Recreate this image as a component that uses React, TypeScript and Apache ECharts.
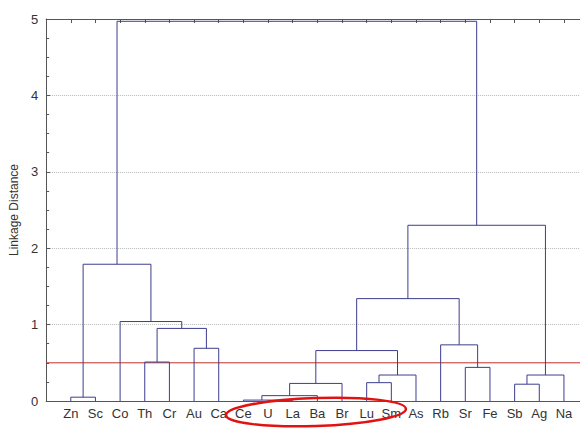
import React, { useEffect, useRef } from "react";
import * as echarts from "echarts";

// Leaf order along the x axis
const leaves: string[] = [
  "Zn", "Sc", "Co", "Th", "Cr", "Au", "Ca", "Ce", "U", "La", "Ba",
  "Br", "Lu", "Sm", "As", "Rb", "Sr", "Fe", "Sb", "Ag", "Na",
];

// Merge list: [childA, childB, linkage distance]
// indices < leaves.length are leaves; leaves.length + k refers to merge k
const mergeA: number[] = [8, 7, 0, 22, 18, 24, 12, 27, 25, 16, 3, 26, 5, 15, 31, 2, 32, 23, 37, 38];
const mergeB: number[] = [9, 21, 1, 10, 19, 11, 13, 14, 20, 17, 4, 28, 6, 30, 33, 35, 34, 36, 29, 39];
const mergeHeight: number[] = [
  0.004, 0.012, 0.05, 0.07, 0.22, 0.23, 0.24, 0.34, 0.34, 0.44,
  0.51, 0.66, 0.69, 0.735, 0.95, 1.04, 1.34, 1.79, 2.3, 4.97,
];

const cutoff = 0.5;
const yMax = 5;

function buildLinks() {
  const xs: number[] = leaves.map((_, i) => i + 1);
  const hs: number[] = leaves.map(() => 0);
  const links: number[][] = [];
  mergeA.forEach((a, k) => {
    const b = mergeB[k];
    const h = mergeHeight[k];
    links.push([xs[a], xs[b], hs[a], hs[b], h]);
    xs.push((xs[a] + xs[b]) / 2);
    hs.push(h);
  });
  return links;
}

export default function App() {
  const ref = useRef<HTMLDivElement>(null);
  useEffect(() => {
    if (!ref.current) return;
    const chart = echarts.init(ref.current, undefined, { renderer: "svg" });
    const links = buildLinks();
    const xMax = leaves.length + 1;
    const font = "Liberation Sans, Arial, sans-serif";
    const axisColor = "#555";
    chart.setOption({
      animation: false,
      backgroundColor: "#fff",
      grid: { left: 45, right: 11.4, top: 19, bottom: 31 },
      xAxis: [
        {
          type: "value",
          min: 0,
          max: xMax,
          interval: 1,
          position: "bottom",
          axisLine: { show: true, lineStyle: { color: axisColor, width: 1 } },
          axisTick: { show: false },
          splitLine: { show: false },
          axisLabel: {
            formatter: (v: number) => leaves[v - 1] ?? "",
            fontSize: 13,
            color: "#333",
            fontFamily: font,
            margin: 6,
            showMinLabel: true,
            showMaxLabel: true,
          },
        },
        {
          type: "value",
          min: 0,
          max: xMax,
          interval: 1,
          position: "top",
          axisLine: { show: true, lineStyle: { color: axisColor, width: 1 } },
          axisTick: { show: true, inside: true, length: 4, lineStyle: { color: axisColor } },
          axisLabel: { show: false },
          splitLine: { show: false },
        },
      ],
      yAxis: {
        type: "value",
        min: 0,
        max: yMax,
        interval: 1,
        name: "Linkage Distance",
        nameLocation: "middle",
        nameGap: 20,
        nameTextStyle: { fontSize: 12, color: "#333", fontFamily: font },
        axisLine: { show: true, lineStyle: { color: axisColor, width: 1 } },
        axisTick: { show: true, inside: true, length: 4, lineStyle: { color: axisColor } },
        minorTick: { show: true, splitNumber: 4, length: 3, lineStyle: { color: axisColor } },
        axisLabel: { fontSize: 13, color: "#333", fontFamily: font, margin: 8 },
        splitLine: { show: true, lineStyle: { type: "dotted", color: "#bbb", width: 1 } },
      },
      series: [
        {
          type: "line",
          data: [[0, cutoff], [xMax, cutoff]],
          symbol: "none",
          lineStyle: { color: "#c0302a", width: 1 },
          z: 1,
          silent: true,
        },
        {
          type: "custom",
          data: links,
          encode: { x: [0, 1], y: [2, 3, 4] },
          z: 2,
          renderItem: (_params: any, api: any) => {
            const p1 = api.coord([api.value(0), api.value(2)]);
            const p2 = api.coord([api.value(0), api.value(4)]);
            const p3 = api.coord([api.value(1), api.value(4)]);
            const p4 = api.coord([api.value(1), api.value(3)]);
            return {
              type: "polyline",
              shape: { points: [p1, p2, p3, p4] },
              style: { stroke: "#3d3d8f", lineWidth: 1, fill: null },
            };
          },
        },
      ],
      graphic: [
        {
          type: "ellipse",
          x: 316,
          y: 412,
          rotation: 0.035,
          shape: { cx: 0, cy: 0, rx: 90, ry: 14 },
          style: { stroke: "#e31212", lineWidth: 2.5, fill: "none" },
          z: 100,
        },
      ],
    });
    return () => chart.dispose();
  }, []);
  return (
    <div style={{ position: "absolute", left: 0, top: 0, width: 580, height: 432, overflow: "hidden" }}>
      <div ref={ref} style={{ width: 600, height: 432 }} />
    </div>
  );
}
